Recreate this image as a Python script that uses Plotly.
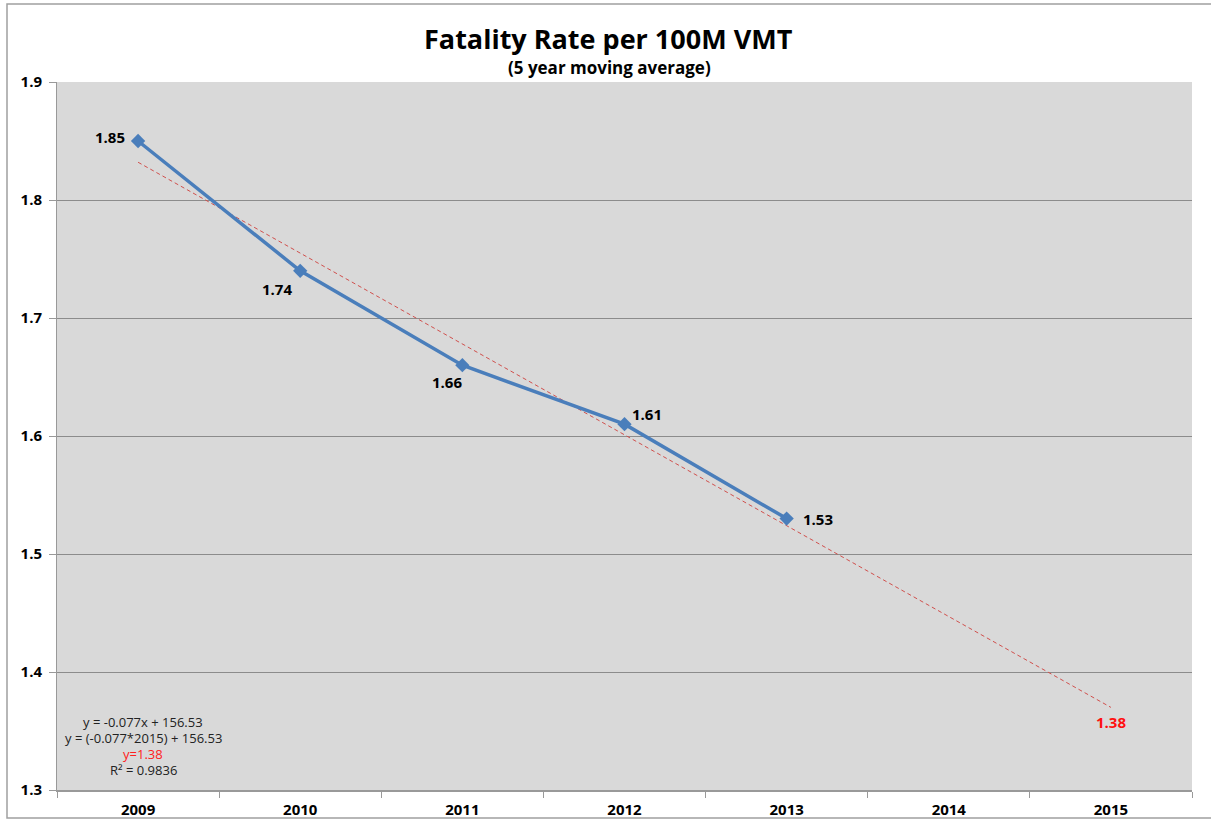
import plotly.graph_objects as go

years = ["2009", "2010", "2011", "2012", "2013", "2014", "2015"]
data_years = ["2009", "2010", "2011", "2012", "2013"]
rates = [1.85, 1.74, 1.66, 1.61, 1.53]
rate_labels = ["1.85", "1.74", "1.66", "1.61", "1.53"]
trend_years = ["2009", "2015"]
trend_values = [1.832, 1.370]
projection_year = "2015"
projection_label = "1.38"
equation_lines = ["y = -0.077x + 156.53", "y = (-0.077*2015) + 156.53", "y=1.38", "R² = 0.9836"]
equation_colors = ["#222222", "#222222", "#ff2020", "#222222"]
y_ticks = [1.3, 1.4, 1.5, 1.6, 1.7, 1.8, 1.9]
title_text = "Fatality Rate per 100M VMT"
subtitle_text = "(5 year moving average)"

# label offsets in pixels (style only)
label_shift = [(-28, 4), (-23, -18), (-15, -17), (22, 10), (31, 0)]

FONT = "Open Sans"
W, H = 1211, 822
L, R, T, B = 57, 19, 82, 32
PW, PH = W - L - R, H - T - B


def px_to_paper(px, py):
    return (px - L) / PW, (H - B - py) / PH


fig = go.Figure()
fig.add_trace(go.Scatter(
    x=trend_years, y=trend_values, mode="lines",
    line=dict(color="#d0504d", width=1, dash="4px,3px"),
    hoverinfo="skip", showlegend=False,
))
fig.add_trace(go.Scatter(
    x=data_years, y=rates, mode="lines+markers",
    line=dict(color="#4a7ebb", width=3.5),
    marker=dict(symbol="diamond", size=11, color="#4a7ebb"),
    showlegend=False,
))

for yr, val, lab, (dx, dy) in zip(data_years, rates, rate_labels, label_shift):
    fig.add_annotation(x=years.index(yr), y=val, xref="x", yref="y", text="<b>" + lab + "</b>",
                       showarrow=False, xshift=dx, yshift=dy,
                       font=dict(family=FONT, size=15, color="black"))

fig.add_annotation(x=years.index(projection_year), y=trend_values[1], xref="x", yref="y",
                   text="<b>" + projection_label + "</b>", showarrow=False,
                   yshift=-15, font=dict(family=FONT, size=15, color="#ff1010"))

for i, (line, col) in enumerate(zip(equation_lines, equation_colors)):
    ax_, ay_ = px_to_paper(143, 722 + 16 * i)
    fig.add_annotation(x=ax_, y=ay_, xref="paper", yref="paper", xanchor="center", yanchor="middle",
                       text=line, showarrow=False,
                       font=dict(family=FONT, size=13, color=col))

tx, ty = px_to_paper(608, 38)
fig.add_annotation(x=tx, y=ty, xref="paper", yref="paper", xanchor="center", yanchor="middle",
                   text="<b>" + title_text + "</b>", showarrow=False,
                   font=dict(family=FONT, size=27, color="black"))
sx, sy = px_to_paper(609, 67)
fig.add_annotation(x=sx, y=sy, xref="paper", yref="paper", xanchor="center", yanchor="middle",
                   text="<b>" + subtitle_text + "</b>", showarrow=False,
                   font=dict(family=FONT, size=17, color="black"))

fig.update_layout(
    width=W, height=H,
    margin=dict(l=L, r=R, t=T, b=B, autoexpand=False),
    paper_bgcolor="white", plot_bgcolor="#d9d9d9",
    xaxis=dict(
        type="category", categoryorder="array", categoryarray=years,
        range=[-0.5, 6.5], tickson="boundaries", ticks="outside", ticklen=6,
        tickcolor="#999999", showgrid=False, showline=True, linecolor="#999999",
        linewidth=2, tickfont=dict(family=FONT, size=15, color="black", weight="bold"),
        ticklabelstandoff=5,
    ),
    yaxis=dict(
        range=[1.3, 1.9], tickvals=y_ticks, tickformat=".1f", ticks="outside",
        ticklen=7, tickcolor="#999999", showgrid=True, gridcolor="#8c8c8c",
        gridwidth=1, showline=True, linecolor="#999999", linewidth=1,
        zeroline=False, tickfont=dict(family=FONT, size=15, color="black", weight="bold"),
        ticklabelstandoff=4,
    ),
)

x0, y0 = px_to_paper(7, 818)
x1, y1 = px_to_paper(1215, 4)
fig.add_shape(type="rect", xref="paper", yref="paper", x0=x0, x1=x1, y0=y0, y1=y1,
              line=dict(color="#a0a0a0", width=1.5), layer="below")

fig.write_html("out.html", config={"displayModeBar": False},
               post_script="document.body.style.margin='0px';document.body.style.overflow='hidden';")
